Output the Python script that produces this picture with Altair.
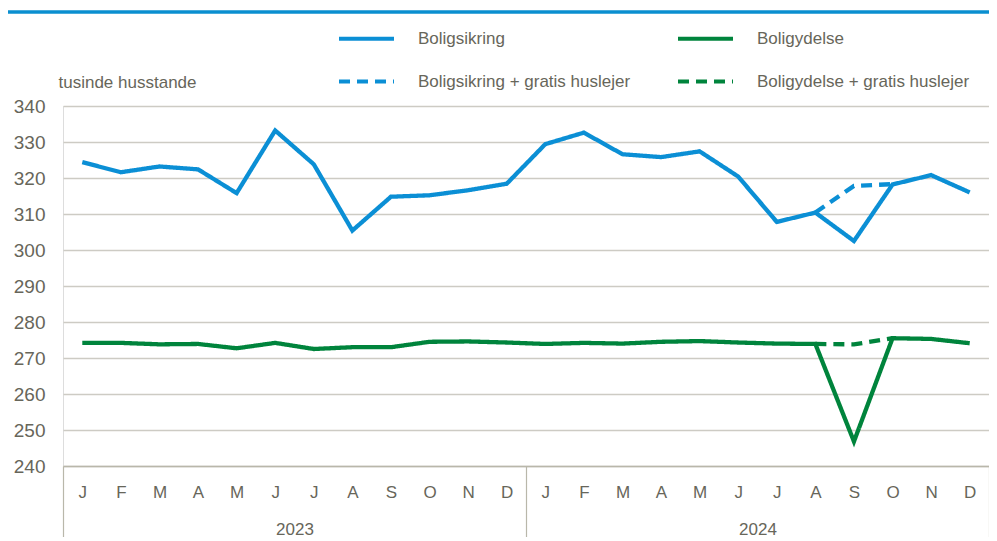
import altair as alt
import pandas as pd

months = ["J", "F", "M", "A", "M", "J", "J", "A", "S", "O", "N", "D"]
years = ["2023", "2024"]
series = ["Boligsikring", "Boligsikring + gratis huslejer",
          "Boligydelse", "Boligydelse + gratis huslejer"]

boligsikring = [324.4, 321.6, 323.2, 322.4, 315.8, 333.2, 323.8, 305.4, 314.8, 315.2, 316.6, 318.4,
                329.4, 332.6, 326.6, 325.8, 327.4, 320.4, 307.8, 310.4, 302.5, 318.2, 320.8, 316.0]
boligydelse = [274.2, 274.2, 273.8, 273.9, 272.7, 274.2, 272.5, 273.0, 273.0, 274.5, 274.6, 274.3,
               273.9, 274.2, 274.0, 274.5, 274.7, 274.3, 274.0, 273.9, 246.8, 275.5, 275.3, 274.1]
gratis_idx = [19, 20, 21]
sikring_gratis = [310.4, 317.8, 318.3]
ydelse_gratis = [273.9, 273.8, 275.5]

BLUE = "#0b8fd5"
GREEN = "#00843c"
TXT = "#67665a"
GRID = "#cdcbc4"
SEP = "#b9b7aa"
FONT = "Liberation Sans Narrow, Arial Narrow, Liberation Sans, Arial"

rows = []
for i, v in enumerate(boligsikring):
    rows.append({"i": i, "v": v, "serie": series[0]})
for i, v in enumerate(boligydelse):
    rows.append({"i": i, "v": v, "serie": series[2]})
for i, v in zip(gratis_idx, sikring_gratis):
    rows.append({"i": i, "v": v, "serie": series[1]})
for i, v in zip(gratis_idx, ydelse_gratis):
    rows.append({"i": i, "v": v, "serie": series[3]})
df = pd.DataFrame(rows)

n = len(months) * len(years)
xscale = alt.Scale(domain=[-0.5, n - 0.5], nice=False, zero=False)
yscale = alt.Scale(domain=[240, 340], nice=False, zero=False)

months_js = "[" + ",".join("'%s'" % m for m in months) + "]"
years_js = "[" + ",".join("'%s'" % y for y in years) + "]"

month_axis = alt.Axis(orient="bottom", values=list(range(n)),
                      labelExpr=months_js + "[datum.value % 12]",
                      ticks=False, grid=False, domain=True, domainColor=SEP,
                      domainWidth=1.5, labelFontSize=17, labelColor=TXT, labelFont=FONT,
                      labelPadding=18, title=None, labelAngle=0)

lines = alt.Chart(df).mark_line(strokeWidth=4.3).encode(
    x=alt.X("i:Q", scale=xscale, axis=month_axis),
    y=alt.Y("v:Q", scale=yscale,
            axis=alt.Axis(values=list(range(240, 341, 10)), grid=True, gridColor=GRID,
                          gridWidth=1.5, domain=False, ticks=False, labelFontSize=19,
                          labelColor=TXT, labelFont=FONT, labelPadding=18,
                          title="tusinde husstande", titleAngle=0, titleAlign="left",
                          titleBaseline="middle", titleX=-5, titleY=-24, titleFontSize=17,
                          titleFontWeight="normal", titleColor=TXT, titleFont=FONT)),
    color=alt.Color("serie:N", scale=alt.Scale(domain=series, range=[BLUE, BLUE, GREEN, GREEN]),
                    title=None,
                    legend=alt.Legend(orient="none", legendX=274, legendY=-97, columns=2,
                                      symbolType="stroke", symbolSize=3025,
                                      symbolStrokeWidth=4, labelFontSize=17,
                                      labelColor=TXT, labelFont=FONT, labelOffset=22,
                                      columnPadding=39, rowPadding=5, labelLimit=400)),
    strokeDash=alt.StrokeDash("serie:N",
                              scale=alt.Scale(domain=series,
                                              range=[[1, 0], [11, 7], [1, 0], [11, 7]]),
                              title=None),
    order=alt.Order("i:Q"),
)

axes_df = pd.DataFrame({"i": [0, n - 1]})

year_layer = alt.Chart(axes_df).mark_point(opacity=0).encode(
    x=alt.X("i:Q", scale=xscale,
            axis=alt.Axis(orient="bottom", values=[5.5, 17.5],
                          labelExpr=years_js + "[floor(datum.value / 12)]",
                          ticks=False, grid=False, domain=False, labelFontSize=17,
                          labelColor=TXT, labelFont=FONT, labelPadding=55, title=None,
                          labelAngle=0)),
    y=alt.value(0),
)

sep_layer = alt.Chart(axes_df).mark_point(opacity=0).encode(
    x=alt.X("i:Q", scale=xscale,
            axis=alt.Axis(orient="bottom", values=[-0.5, 11.5, n - 0.5], labels=False,
                          ticks=True, tickSize=80, tickColor=SEP, tickWidth=1.2,
                          grid=False, domain=False, title=None)),
    y=alt.value(0),
)

top_rule = alt.Chart(axes_df).mark_rule(color="#0a8fd0", strokeWidth=3).encode(
    x=alt.value(-59), x2=alt.value(930), y=alt.value(-94)
)

chart = alt.layer(lines, year_layer, sep_layer, top_rule).resolve_axis(x="independent").properties(
    width=926, height=360,
    autosize=alt.AutoSizeParams(type="none"),
    padding={"left": 55, "top": 98, "right": 0, "bottom": 71},
).configure_view(stroke=None).configure(background="white")

chart.save("out.html", embed_options={"renderer": "svg", "actions": False})
